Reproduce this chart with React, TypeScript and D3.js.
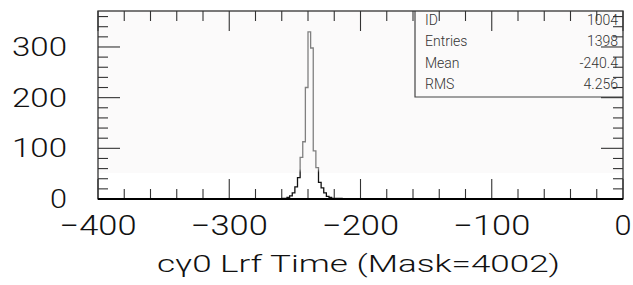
import { useEffect, useRef } from 'react';
import * as d3 from 'd3';

// bin lower edges (bin width 2) and counts
const BIN_START = [-260, -258, -256, -254, -252, -250, -248, -246, -244, -242, -240, -238, -236, -234, -232, -230, -228, -226, -224, -222, -220, -218, -216];
const COUNTS = [1, 1, 3, 6, 12, 24, 42, 82, 113, 220, 330, 298, 95, 62, 33, 22, 12, 5, 3, 1, 1, 1, 1];
const BIN_WIDTH = 2;

const X_TICKS = [-400, -300, -200, -100, 0];
const Y_TICKS = [0, 100, 200, 300];
const STAT_LABELS = ['ID', 'Entries', 'Mean', 'RMS'];
const STAT_VALUES = ['1004', '1398', '-240.4', '4.256'];
const TITLE = 'cγ0 Lrf Time (Mask=4002)';

const W = 633;
const H = 285;

export default function App() {
  const svgRef = useRef<SVGSVGElement>(null);

  useEffect(() => {
    if (!svgRef.current) return;
    const svg = d3.select(svgRef.current);
    svg.selectAll('*').remove();

    const left = 98, right = 623, top = 11, bottom = 199;
    const x = d3.scaleLinear().domain([-400, 0]).range([left, right]);
    const y = d3.scaleLinear().domain([0, 371]).range([bottom, top]);

    const font = 'Roboto, Lato, "Open Sans", sans-serif';

    // faint scan tint
    svg.append('rect')
      .attr('x', left).attr('y', top)
      .attr('width', right - left).attr('height', 162)
      .attr('fill', '#fbfafa');

    // histogram gradient: grey on top, black near the base (like the scan)
    const defs = svg.append('defs');
    const grad = defs.append('linearGradient')
      .attr('id', 'histStroke')
      .attr('gradientUnits', 'userSpaceOnUse')
      .attr('x1', 0).attr('x2', 0).attr('y1', top).attr('y2', bottom);
    grad.append('stop').attr('offset', '0%').attr('stop-color', '#808080');
    grad.append('stop').attr('offset', '84%').attr('stop-color', '#808080');
    grad.append('stop').attr('offset', '86%').attr('stop-color', '#111');
    grad.append('stop').attr('offset', '100%').attr('stop-color', '#111');

    const pts: [number, number][] = [[BIN_START[0], 0]];
    BIN_START.forEach((b, i) => pts.push([b, COUNTS[i]]));
    pts.push([BIN_START[BIN_START.length - 1] + BIN_WIDTH, 0]);

    const line = d3.line<[number, number]>()
      .x(d => x(d[0]))
      .y(d => y(d[1]))
      .curve(d3.curveStepAfter);

    svg.append('path')
      .attr('d', line(pts))
      .attr('fill', 'none')
      .attr('stroke', 'url(#histStroke)')
      .attr('stroke-width', 1.3);

    // stats box
    const boxLeft = 415, boxBottom = 97;
    svg.append('path')
      .attr('d', `M${boxLeft},${top}V${boxBottom}H${right}`)
      .attr('fill', 'none')
      .attr('stroke', '#444')
      .attr('stroke-width', 1.2);

    STAT_LABELS.forEach((lab, i) => {
      const yy = 25 + i * 21.3;
      svg.append('text')
        .attr('x', boxLeft + 10).attr('y', yy)
        .attr('font-family', font).attr('font-size', 14).attr('font-weight', 300)
        .attr('fill', '#333')
        .text(lab);
      svg.append('text')
        .attr('x', 618).attr('y', yy)
        .attr('text-anchor', 'end')
        .attr('font-family', font).attr('font-size', 14).attr('font-weight', 300)
        .attr('fill', '#333')
        .text(STAT_VALUES[i]);
    });

    // ticks on all four sides, minor every 20, major every 100
    const xTickVals = d3.range(-400, 1, 20);
    const yTickVals = d3.range(0, 371, 20);
    const g = svg.append('g').attr('stroke', '#333').attr('stroke-width', 1.1);
    xTickVals.forEach(v => {
      const len = v % 100 === 0 ? 20 : 10;
      g.append('line').attr('x1', x(v)).attr('x2', x(v)).attr('y1', bottom).attr('y2', bottom - len);
      g.append('line').attr('x1', x(v)).attr('x2', x(v)).attr('y1', top).attr('y2', top + len);
    });
    yTickVals.forEach(v => {
      const len = v % 100 === 0 ? 22 : 10;
      g.append('line').attr('x1', left).attr('x2', left + len).attr('y1', y(v)).attr('y2', y(v));
      g.append('line').attr('x1', right).attr('x2', right - len).attr('y1', y(v)).attr('y2', y(v));
    });

    // frame
    svg.append('rect')
      .attr('x', left).attr('y', top)
      .attr('width', right - left).attr('height', bottom - top)
      .attr('fill', 'none')
      .attr('stroke', '#333')
      .attr('stroke-width', 1.3);
    svg.append('line')
      .attr('x1', left).attr('x2', right).attr('y1', bottom).attr('y2', bottom)
      .attr('stroke', '#000').attr('stroke-width', 2.2);

    // y tick labels
    Y_TICKS.forEach(v => {
      const s = String(v);
      svg.append('text')
        .attr('x', 67).attr('y', y(v) + 9)
        .attr('text-anchor', 'end')
        .attr('font-family', font).attr('font-size', 25).attr('font-weight', 300)
        .attr('textLength', s.length * 19 - 2)
        .attr('lengthAdjust', 'spacingAndGlyphs')
        .attr('fill', '#111')
        .text(s);
    });

    // x tick labels
    X_TICKS.forEach(v => {
      const s = v < 0 ? `\u2212${Math.abs(v)}` : String(v);
      svg.append('text')
        .attr('x', x(v)).attr('y', 235)
        .attr('text-anchor', 'middle')
        .attr('font-family', font).attr('font-size', 27).attr('font-weight', 300)
        .attr('textLength', v < 0 ? 77 : 17)
        .attr('lengthAdjust', 'spacingAndGlyphs')
        .attr('fill', '#111')
        .text(s);
    });

    // axis title
    svg.append('text')
      .attr('x', (left + right) / 2 - 2).attr('y', 272)
      .attr('text-anchor', 'middle')
      .attr('font-family', font).attr('font-size', 24).attr('font-weight', 300)
      .attr('textLength', 403)
      .attr('lengthAdjust', 'spacingAndGlyphs')
      .attr('fill', '#111')
      .text(TITLE);
  }, []);

  return (
    <svg
      ref={svgRef}
      width={W}
      height={H}
      style={{ position: 'fixed', left: 0, top: 0, background: '#fff', display: 'block' }}
    />
  );
}
